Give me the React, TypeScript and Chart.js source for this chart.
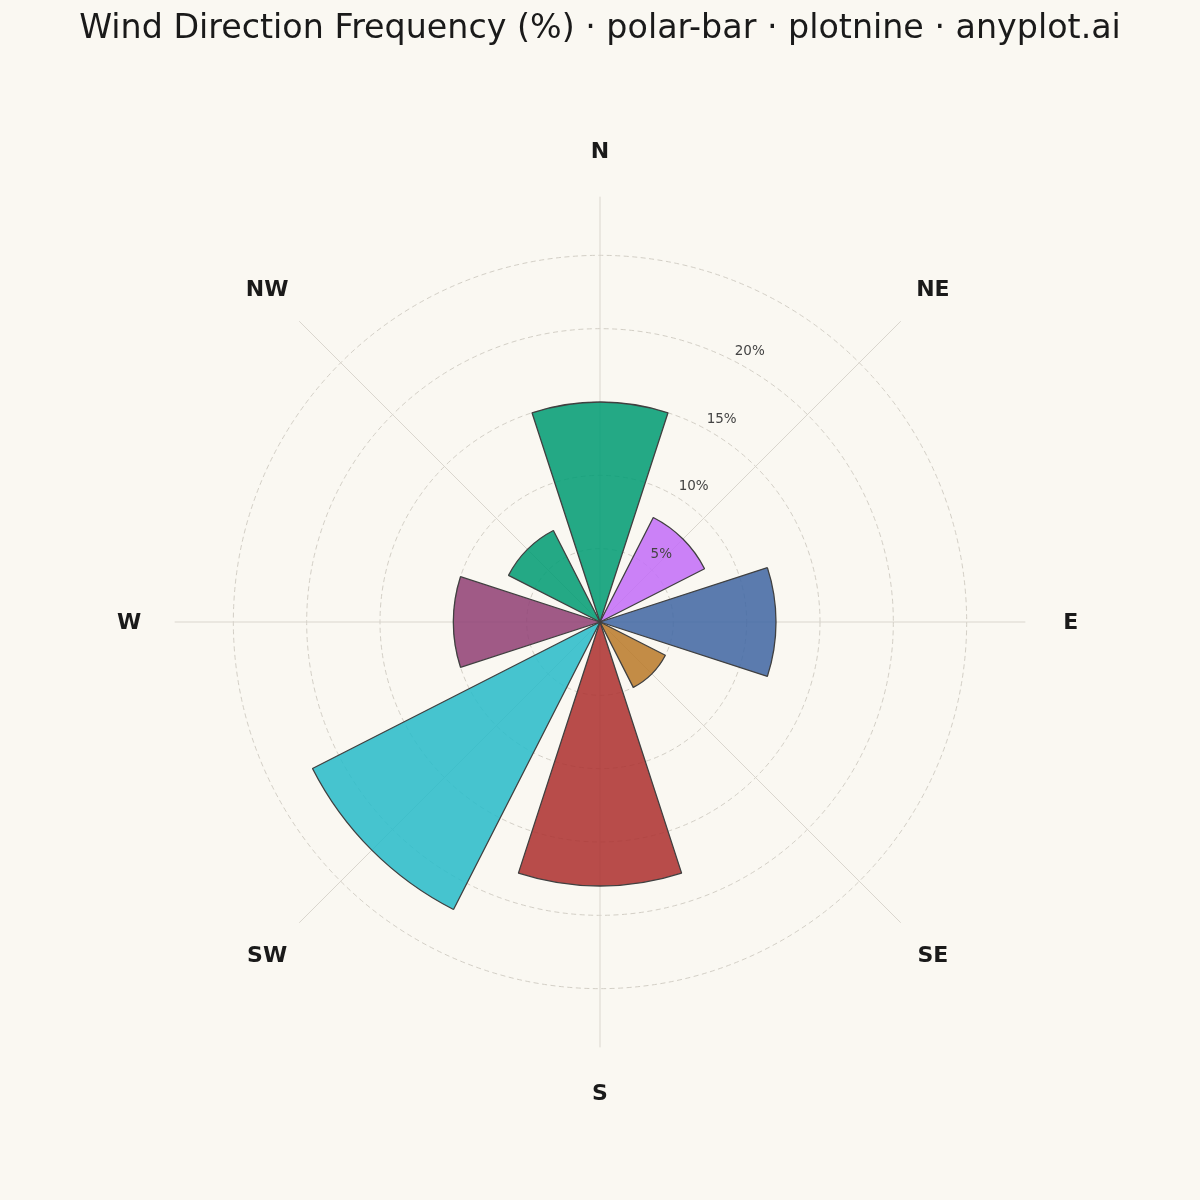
import React, { useEffect, useRef } from "react";
import { Chart, registerables } from "chart.js";

Chart.register(...registerables);

// ---------- data ----------
const TITLE = "Wind Direction Frequency (%) · polar-bar · plotnine · anyplot.ai";
const directions = ["N", "NE", "E", "SE", "S", "SW", "W", "NW"];
const frequency = [15, 8, 12, 5, 18, 22, 10, 7];
const barColors = [
  "rgba(0,156,115,0.86)",
  "rgba(195,110,248,0.86)",
  "rgba(64,102,163,0.86)",
  "rgba(185,122,42,0.86)",
  "rgba(172,48,47,0.86)",
  "rgba(40,187,202,0.86)",
  "rgba(144,64,117,0.86)",
  "rgba(0,156,115,0.86)",
];
const gridValues = [5, 10, 15, 20, 25];
const tickValues = [5, 10, 15, 20];
const tickLabels = ["5%", "10%", "15%", "20%"];

// ---------- geometry / style constants ----------
const SECTOR_DEG = 360 / directions.length;
const BAR_DEG = SECTOR_DEG * 0.8;
const GAP_DEG = SECTOR_DEG - BAR_DEG;
const R_MAX = 30;
const SPOKE_VALUE = 29;
const DIR_LABEL_VALUE = 32.1;
const TICK_ANGLE_DEG = 22.5;
const BG = "#FAF8F2";
const FONT = "'DejaVu Sans', 'Liberation Sans', sans-serif";

// 16-element table: bar, gap, bar, gap ...
const tableLabels: string[] = [];
const tableValues: number[] = [];
const tableColors: string[] = [];
const tableAngles: number[] = [];
const tableBorders: number[] = [];
directions.forEach((d, i) => {
  tableLabels.push(d, "");
  tableValues.push(frequency[i], 0);
  tableColors.push(barColors[i], "rgba(0,0,0,0)");
  tableAngles.push(BAR_DEG, GAP_DEG);
  tableBorders.push(1.3, 0);
});

const toRad = (deg: number) => (deg * Math.PI) / 180;

const roseDecor = {
  id: "roseDecor",
  beforeDraw(chart: any) {
    const ctx = chart.ctx;
    ctx.save();
    ctx.fillStyle = BG;
    ctx.fillRect(0, 0, chart.width, chart.height);
    ctx.restore();
  },
  beforeDatasetsDraw(chart: any) {
    const s = chart.scales.r;
    const ctx = chart.ctx;
    const cx = s.xCenter;
    const cy = s.yCenter;
    ctx.save();
    // dashed circles
    ctx.strokeStyle = "#D3CFC6";
    ctx.lineWidth = 1;
    ctx.setLineDash([5, 3.5]);
    gridValues.forEach((v) => {
      const r = s.getDistanceFromCenterForValue(v);
      ctx.beginPath();
      ctx.arc(cx, cy, r, 0, Math.PI * 2);
      ctx.stroke();
    });
    // spokes
    ctx.setLineDash([]);
    ctx.strokeStyle = "#DAD6CE";
    const rs = s.getDistanceFromCenterForValue(SPOKE_VALUE);
    directions.forEach((_, i) => {
      const a = toRad(i * SECTOR_DEG) - Math.PI / 2;
      ctx.beginPath();
      ctx.moveTo(cx, cy);
      ctx.lineTo(cx + Math.cos(a) * rs, cy + Math.sin(a) * rs);
      ctx.stroke();
    });
    ctx.restore();
  },
  afterDatasetsDraw(chart: any) {
    const s = chart.scales.r;
    const ctx = chart.ctx;
    const cx = s.xCenter;
    const cy = s.yCenter;
    ctx.save();
    // radial tick labels
    ctx.font = `13.5px ${FONT}`;
    ctx.fillStyle = "#444444";
    ctx.textAlign = "left";
    ctx.textBaseline = "middle";
    const ta = toRad(TICK_ANGLE_DEG) - Math.PI / 2;
    tickValues.forEach((v, i) => {
      const r = s.getDistanceFromCenterForValue(v);
      ctx.fillText(tickLabels[i], cx + Math.cos(ta) * r + 22.5, cy + Math.sin(ta) * r + 0.5);
    });
    // direction labels
    ctx.font = `bold 22px ${FONT}`;
    ctx.fillStyle = "#1A1A1A";
    ctx.textAlign = "center";
    const rl = s.getDistanceFromCenterForValue(DIR_LABEL_VALUE);
    directions.forEach((d, i) => {
      const a = toRad(i * SECTOR_DEG) - Math.PI / 2;
      ctx.fillText(d, cx + Math.cos(a) * rl, cy + Math.sin(a) * rl + 1);
    });
    // title
    ctx.font = `33.3px ${FONT}`;
    ctx.textBaseline = "alphabetic";
    ctx.fillText(TITLE, chart.width / 2, 37.5);
    ctx.restore();
  },
};

export default function App() {
  const canvasRef = useRef<HTMLCanvasElement | null>(null);

  useEffect(() => {
    if (!canvasRef.current) return;
    const chart = new Chart(canvasRef.current, {
      type: "polarArea",
      data: {
        labels: tableLabels,
        datasets: [
          {
            data: tableValues,
            backgroundColor: tableColors,
            borderColor: "#404040",
            borderWidth: tableBorders,
            angle: tableAngles,
          } as any,
        ],
      },
      options: {
        responsive: false,
        animation: false,
        layout: { padding: { left: 160, right: 160, top: 182, bottom: 137 } },
        scales: {
          r: {
            min: 0,
            max: R_MAX,
            startAngle: -BAR_DEG / 2,
            ticks: { display: false },
            grid: { display: false },
            angleLines: { display: false },
            pointLabels: { display: false },
          },
        },
        plugins: {
          legend: { display: false },
          title: { display: false },
          tooltip: { enabled: false },
        },
      },
      plugins: [roseDecor],
    });
    return () => chart.destroy();
  }, []);

  return (
    <div
      style={{
        position: "absolute",
        left: 0,
        top: 0,
        width: 1200,
        height: 1200,
        background: BG,
      }}
    >
      <canvas ref={canvasRef} width={1200} height={1200} style={{ display: "block" }} />
    </div>
  );
}
